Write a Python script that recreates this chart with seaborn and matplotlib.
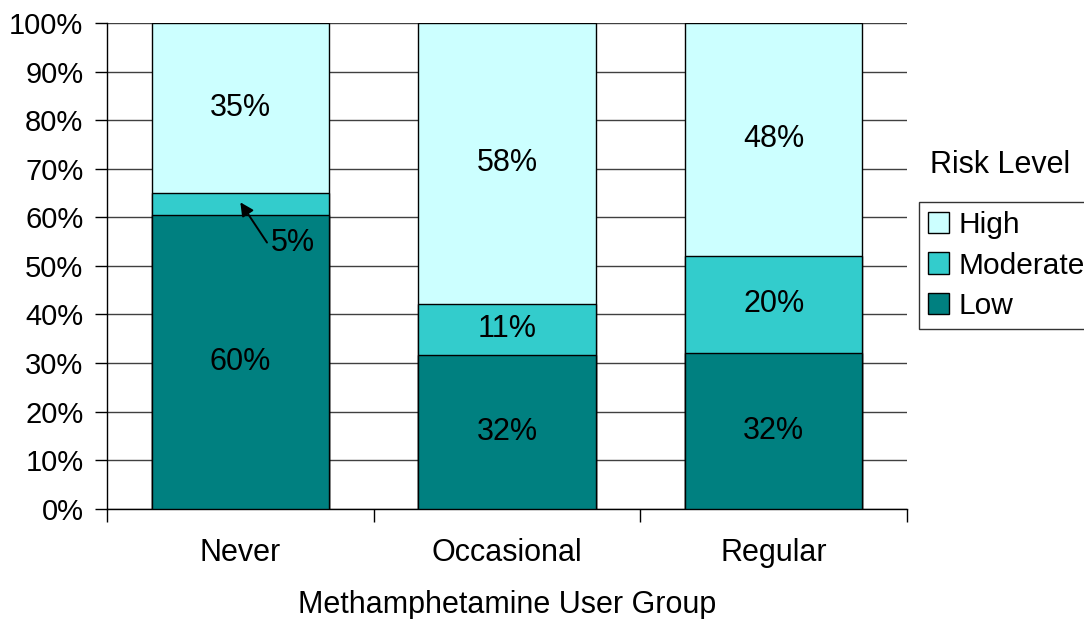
import matplotlib
matplotlib.use("Agg")
import matplotlib.pyplot as plt
import seaborn as sns
import pandas as pd
import numpy as np

groups = ["Never", "Occasional", "Regular"]
levels = ["High", "Moderate", "Low"]
low = [60.4, 31.6, 32.1]
moderate = [4.7, 10.6, 20.0]
high = [34.9, 57.8, 47.9]
colors = {"High": "#CCFFFF", "Moderate": "#33CCCC", "Low": "#008080"}

sns.set_theme(style="white")
plt.rcParams["font.family"] = ["Liberation Sans", "DejaVu Sans"]
plt.rcParams.update({"text.color": "black", "axes.labelcolor": "black",
                     "xtick.color": "black", "ytick.color": "black"})

FS = 22

df = pd.DataFrame({"group": groups, "Low": low, "Moderate": moderate, "High": high})
df["cum_low"] = df["Low"]
df["cum_mod"] = df["Low"] + df["Moderate"]
df["cum_high"] = df["cum_mod"] + df["High"]

fig = plt.figure(figsize=(10.84, 6.19), dpi=100)
ax = fig.add_axes([107 / 1084, 1 - 508.7 / 619, 800 / 1084, (508.7 - 23) / 619])

bw = 0.664
for col, lvl in [("cum_high", "High"), ("cum_mod", "Moderate"), ("cum_low", "Low")]:
    sns.barplot(data=df, x="group", y=col, color=colors[lvl], width=bw,
                saturation=1, edgecolor="black", linewidth=1.0, ax=ax, zorder=3)

ax.set_xlim(-0.5, 2.5)
ax.set_ylim(0, 100)
ax.set_yticks(np.arange(0, 101, 10))
ax.set_yticklabels([f"{v}%" for v in range(0, 101, 10)], fontsize=21)
ax.yaxis.grid(True, color="#404040", linewidth=1.0, zorder=0)
ax.set_axisbelow(True)
for s in ["top", "right"]:
    ax.spines[s].set_visible(False)
ax.spines["left"].set_color("black")
ax.spines["bottom"].set_color("black")
ax.spines["left"].set_linewidth(1.0)
ax.spines["bottom"].set_linewidth(1.0)
ax.tick_params(axis="y", which="major", left=True, length=9, width=1, color="black", pad=8)
ax.set_xticks([0, 1, 2])
ax.set_xticklabels(groups, fontsize=FS)
ax.tick_params(axis="x", which="major", bottom=False, length=0, pad=21)
ax.set_xticks([-0.5, 0.5, 1.5, 2.5], minor=True)
ax.tick_params(axis="x", which="minor", bottom=True, length=9, width=1, color="black")
ax.set_xlabel("Methamphetamine User Group", fontsize=FS, labelpad=16)
ax.set_ylabel("")

# segment labels
for i in range(len(groups)):
    lo, mo, hi = low[i], moderate[i], high[i]
    ax.text(i, lo / 2, f"{lo:.0f}%", ha="center", va="center", fontsize=FS, zorder=5)
    ax.text(i, lo + mo + hi / 2, f"{hi:.0f}%", ha="center", va="center", fontsize=FS, zorder=5)
    if mo >= 8:
        ax.text(i, lo + mo / 2, f"{mo:.0f}%", ha="center", va="center", fontsize=FS, zorder=5)
    else:
        # thin segment: label sits below, with a pointer up into the segment
        ax.text(i + 0.198, lo - 5.7, f"{mo:.0f}%", ha="center", va="center", fontsize=FS, zorder=5)
        ax.annotate("", xy=(i, lo + mo * 0.57), xytext=(i + 0.1, lo - 5.6), zorder=5,
                    arrowprops=dict(arrowstyle="-|>", color="black", lw=1.4,
                                    mutation_scale=20, shrinkA=0, shrinkB=0))

# legend
handles = [matplotlib.patches.Patch(facecolor=colors[l], edgecolor="black", linewidth=1.0) for l in levels]
leg = fig.legend(handles, levels, loc="upper left", bbox_to_anchor=(919 / 1084, 1 - 202 / 619),
                 fontsize=21.5, frameon=True, fancybox=False, handlelength=0.72, handleheight=0.72,
                 handletextpad=0.3, labelspacing=0.42, borderpad=0.3, borderaxespad=0)
leg.get_frame().set_edgecolor("black")
leg.get_frame().set_linewidth(1.0)
fig.text(1000 / 1084, 1 - 165 / 619, "Risk Level", ha="center", va="center", fontsize=FS)

fig.savefig("out.png", dpi=100)
